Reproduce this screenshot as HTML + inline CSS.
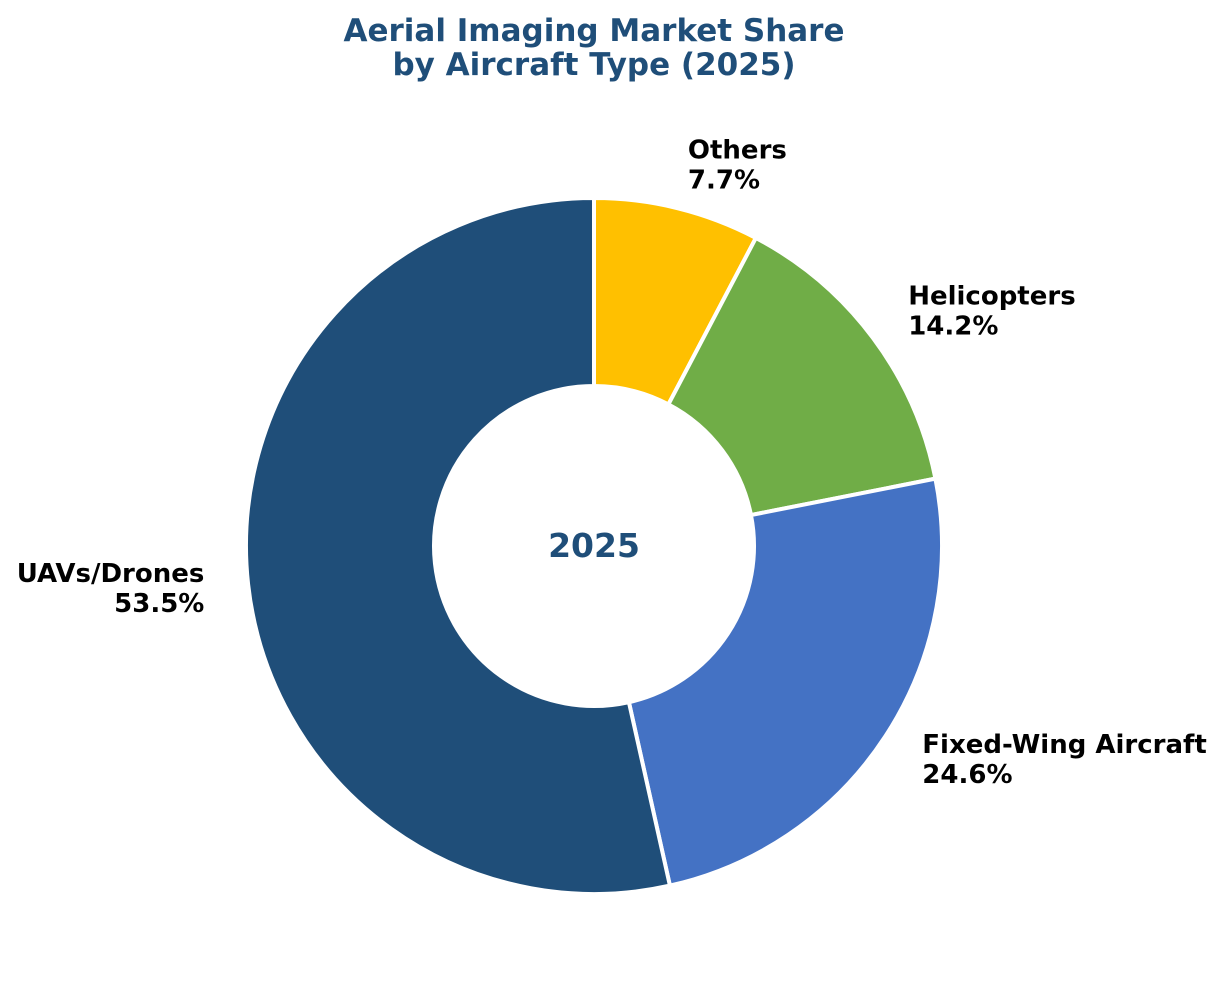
<!DOCTYPE html>
<html><head><meta charset="utf-8"><style>
body{margin:0;background:#fff}
svg text{font-family:"DejaVu Sans","Liberation Sans",sans-serif;font-weight:bold}
</style></head><body>
<svg id="chart" width="1222" height="1000">
<text x="594" y="41" text-anchor="middle" font-size="31" fill="#1f4e79"><tspan x="594">Aerial Imaging Market Share</tspan><tspan x="594" dy="34">by Aircraft Type (2025)</tspan></text>
<g id="slices"></g>
<g id="labels"></g>
<text x="594" y="557" text-anchor="middle" font-size="33" fill="#1f4e79">2025</text>
</svg>
<script>
const categories=["Others","Helicopters","Fixed-Wing Aircraft","UAVs/Drones"];
const values=[7.7,14.2,24.6,53.5];
const colors=["#ffc000","#70ad47","#4472c4","#1f4e79"];
const cx=594,cy=546,R=348,r=160,LR=392;
const ns="http://www.w3.org/2000/svg";
const total=values.reduce((a,b)=>a+b,0);
const pt=(ang,rad)=>[cx+rad*Math.sin(ang),cy-rad*Math.cos(ang)];
let acc=0;
const sg=document.getElementById('slices'),lg=document.getElementById('labels');
values.forEach((v,i)=>{
 const a0=acc/total*2*Math.PI;acc+=v;const a1=acc/total*2*Math.PI;
 const large=(a1-a0)>Math.PI?1:0;
 const [x0,y0]=pt(a0,R),[x1,y1]=pt(a1,R),[x2,y2]=pt(a1,r),[x3,y3]=pt(a0,r);
 const p=document.createElementNS(ns,'path');
 p.setAttribute('d',`M${x0},${y0}A${R},${R} 0 ${large} 1 ${x1},${y1}L${x2},${y2}A${r},${r} 0 ${large} 0 ${x3},${y3}Z`);
 p.setAttribute('fill',colors[i]);p.setAttribute('stroke','#fff');p.setAttribute('stroke-width','4');
 
 
 sg.appendChild(p);
 const am=(a0+a1)/2;const [lx,ly]=pt(am,LR);
 const t=document.createElementNS(ns,'text');
 t.setAttribute('font-size','26');t.setAttribute('fill','#000');
 t.setAttribute('text-anchor',lx>=cx?'start':'end');
 
 
 const s1=document.createElementNS(ns,'tspan');s1.setAttribute('x',lx);s1.setAttribute('y',ly-7);s1.textContent=categories[i];
 const s2=document.createElementNS(ns,'tspan');s2.setAttribute('x',lx);s2.setAttribute('y',ly+23);s2.textContent=v.toFixed(1)+'%';
 t.appendChild(s1);t.appendChild(s2);lg.appendChild(t);
});
</script>
</body></html>
